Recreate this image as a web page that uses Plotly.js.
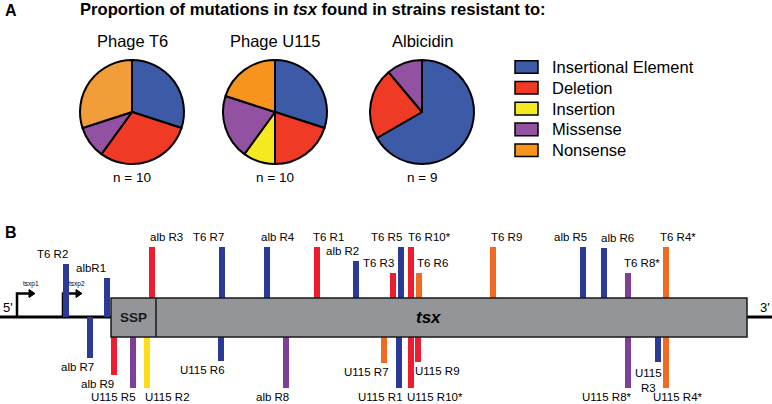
<!DOCTYPE html>
<html>
<head>
<meta charset="utf-8">
<script src="https://cdn.plot.ly/plotly-3.0.1.min.js"></script>
<style>html,body{margin:0;padding:0;background:#fff;}#chart{width:772px;height:404px;}</style>
</head>
<body>
<div id="chart"></div>
<script>
// ---------- Panel A data ----------
const categories = ["Insertional Element", "Deletion", "Insertion", "Missense", "Nonsense"];
const pieNames = ["Phage T6", "Phage U115", "Albicidin"];
const countsT6 = [3, 3, 0, 1, 3];
const countsU115 = [3, 2, 1, 2, 2];
const countsAlb = [6, 2, 0, 1, 0];
const pieN = ["n = 10", "n = 10", "n = 9"];

// ---------- Panel B data ----------
const mutNames = ["T6 R2","albR1","alb R3","T6 R7","alb R4","T6 R1","alb R2","T6 R3","T6 R5","T6 R10*","T6 R6","T6 R9","alb R5","alb R6","T6 R8*","T6 R4*",
  "alb R7","alb R9","U115 R5","U115 R2","U115 R6","alb R8","U115 R7","U115 R1","U115 R10*","U115 R9","U115 R8*","U115<br>R3","U115 R4*"];
const mutPos = [66,107,152,222,267,317,356,393,401,411,419,493,583,604,628,666,
  90,114,133,147,221,286,384,399,411,418,628,658,666];
const mutType = [0,0,1,0,0,1,0,1,0,1,4,4,0,0,3,4,
  0,1,3,2,0,3,4,0,1,1,3,0,4];
const mutSide = ["up","up","up","up","up","up","up","up","up","up","up","up","up","up","up","up",
  "down","down","down","down","down","down","down","down","down","down","down","down","down"];
// bar tip (drawing level) for each mutation
const mutTip = [264,278,247,247,247,247,261,273,247,247,273,247,247,248,273,247,
  358,375,388,388,361,388,363,388,388,362,388,362,388];
// label placement
const labelX = [52,91,166,208,278,328,342,378,386,429,432,506,570,617,642,678,
  77,97,113,167,202,272,366,380,435,437,607,648,678];

// ---------- geometry of gene drawing (pixel-like axis units) ----------
const lineY = 317, boxTop = 298, boxBot = 337, boxL = 111, boxR = 747, sspR = 156;

const pieColors = ["#3c5aa6","#ef3a26","#f5e921","#9252a1","#f7941d"];
const pieColorsT6 = ["#3c5aa6","#ef3a26","#f5e921","#9252a1","#f19d3a"];
const barColors = ["#2a3a96","#ed1c2e","#ffdd17","#7d3f98","#f26a21"];
const FONT = "Liberation Sans, Arial, sans-serif";

const W = 772, H = 404;
function px(x){return x/W;}
function py(y){return 1 - y/H;}

const traces = [];
const pieCenters = [[132,112],[275,112],[422,112]];
const R = 52;
[countsT6, countsU115, countsAlb].forEach((cnt, i) => {
  const labs = [], vals = [], cols = [];
  const pal = i === 0 ? pieColorsT6 : pieColors;
  cnt.forEach((v, k) => { if (v > 0) { labs.push(categories[k]); vals.push(v); cols.push(pal[k]); } });
  const [cx, cy] = pieCenters[i];
  traces.push({
    type: "pie", labels: labs, values: vals, sort: false, direction: "clockwise", rotation: 0,
    marker: {colors: cols, line: {color: "#000", width: 2}},
    textinfo: "none", hoverinfo: "skip", showlegend: false,
    domain: {x: [px(cx - R), px(cx + R)], y: [py(cy + R), py(cy - R)]}
  });
});

// mutation bars: one bar trace per type
for (let t = 0; t < categories.length; t++) {
  const xs = [], bases = [], ys = [];
  mutPos.forEach((p, k) => {
    if (mutType[k] !== t) return;
    const onLine = p < boxL;
    let base;
    if (mutSide[k] === "up") base = onLine ? lineY : boxTop;
    else base = onLine ? lineY : boxBot;
    xs.push(p); bases.push(base); ys.push(mutTip[k] - base);
  });
  if (!xs.length) continue;
  traces.push({
    type: "bar", x: xs, y: ys, base: bases, width: 6,
    marker: {color: barColors[t], line: {width: 0}},
    hoverinfo: "skip", showlegend: false, xaxis: "x", yaxis: "y"
  });
}

const shapes = [];
const annotations = [];

// DNA line
shapes.push({type: "line", xref: "x", yref: "y", x0: 0, x1: boxL, y0: lineY, y1: lineY, line: {color: "#000", width: 3}, layer: "below"});
shapes.push({type: "line", xref: "x", yref: "y", x0: boxR, x1: W, y0: lineY, y1: lineY, line: {color: "#000", width: 3}, layer: "below"});
// gene box
shapes.push({type: "rect", xref: "x", yref: "y", x0: boxL, x1: boxR, y0: boxTop, y1: boxBot, fillcolor: "#939598", line: {color: "#1a1a1a", width: 1.5}, layer: "above"});
shapes.push({type: "line", xref: "x", yref: "y", x0: sspR, x1: sspR, y0: boxTop, y1: boxBot, line: {color: "#1a1a1a", width: 1.5}, layer: "above"});
// promoters
[[17, 30], [63, 77]].forEach(([x0, x1]) => {
  shapes.push({type: "path", xref: "x", yref: "y", path: `M${x0},${lineY} L${x0},293.5 L${x1},293.5`, line: {color: "#000", width: 2.5}, layer: "below"});
  shapes.push({type: "path", xref: "x", yref: "y", path: `M${x1 - 1},289.5 L${x1 + 5},293.5 L${x1 - 1},297.5 Z`, fillcolor: "#000", line: {color: "#000", width: 1}, layer: "below"});
});

// legend
categories.forEach((c, k) => {
  const yc = 67 + k * 20.8;
  shapes.push({type: "rect", xref: "x", yref: "y", x0: 515, x1: 538, y0: yc - 6.3, y1: yc + 6.3, fillcolor: pieColors[k], line: {color: "#000", width: 1.5}});
  annotations.push({xref: "x", yref: "y", x: 550, y: yc, xanchor: "left", yanchor: "middle", text: c, showarrow: false, font: {family: FONT, size: 16.5, color: "#000"}});
});

// panel labels & titles
annotations.push({xref: "x", yref: "y", x: 3, y: 10, xanchor: "left", yanchor: "middle", text: "<b>A</b>", showarrow: false, font: {family: FONT, size: 16, color: "#000"}});
annotations.push({xref: "x", yref: "y", x: 3, y: 232, xanchor: "left", yanchor: "middle", text: "<b>B</b>", showarrow: false, font: {family: FONT, size: 16, color: "#000"}});
annotations.push({xref: "x", yref: "y", x: 312.5, y: 9, xanchor: "center", yanchor: "middle", text: "<b>Proportion of mutations in <i>tsx</i> found in strains resistant to:</b>", showarrow: false, font: {family: FONT, size: 16.6, color: "#000"}});
pieNames.forEach((n, i) => {
  annotations.push({xref: "x", yref: "y", x: pieCenters[i][0], y: 41, xanchor: "center", yanchor: "middle", text: n, showarrow: false, font: {family: FONT, size: 16.5, color: "#000"}});
  annotations.push({xref: "x", yref: "y", x: pieCenters[i][0], y: 177, xanchor: "center", yanchor: "middle", text: pieN[i], showarrow: false, font: {family: FONT, size: 13.5, color: "#000"}});
});

// gene text
annotations.push({xref: "x", yref: "y", x: 133, y: lineY, text: "<b>SSP</b>", showarrow: false, font: {family: FONT, size: 13.5, color: "#1a1a1a"}});
annotations.push({xref: "x", yref: "y", x: 429, y: lineY, text: "<b><i>tsx</i></b>", showarrow: false, font: {family: FONT, size: 17, color: "#000"}});
annotations.push({xref: "x", yref: "y", x: 1, y: 307, xanchor: "left", text: "5'", showarrow: false, font: {family: FONT, size: 13, color: "#000"}});
annotations.push({xref: "x", yref: "y", x: 772, y: 307, xanchor: "right", text: "3'", showarrow: false, font: {family: FONT, size: 13, color: "#000"}});
annotations.push({xref: "x", yref: "y", x: 31, y: 284, text: "tsxp1", showarrow: false, font: {family: FONT, size: 6.5, color: "#000"}});
annotations.push({xref: "x", yref: "y", x: 77, y: 284, text: "tsxp2", showarrow: false, font: {family: FONT, size: 6.5, color: "#000"}});

// mutation labels
mutNames.forEach((n, k) => {
  let y;
  if (mutSide[k] === "up") y = mutTip[k] - 10;
  else y = n.indexOf("<br>") >= 0 ? mutTip[k] + 18 : mutTip[k] + 9;
  annotations.push({xref: "x", yref: "y", x: labelX[k], y: y, xanchor: "center", yanchor: "middle", text: n, showarrow: false, font: {family: FONT, size: 11.5, color: "#000"}});
});

const layout = {
  width: W, height: H, margin: {l: 0, r: 0, t: 0, b: 0},
  paper_bgcolor: "#fff", plot_bgcolor: "rgba(0,0,0,0)",
  showlegend: false, barmode: "overlay",
  xaxis: {range: [0, W], visible: false, fixedrange: true, domain: [0, 1]},
  yaxis: {range: [H, 0], visible: false, fixedrange: true, domain: [0, 1]},
  shapes: shapes, annotations: annotations
};
Plotly.newPlot("chart", traces, layout, {staticPlot: true, displayModeBar: false});
</script>
</body>
</html>
